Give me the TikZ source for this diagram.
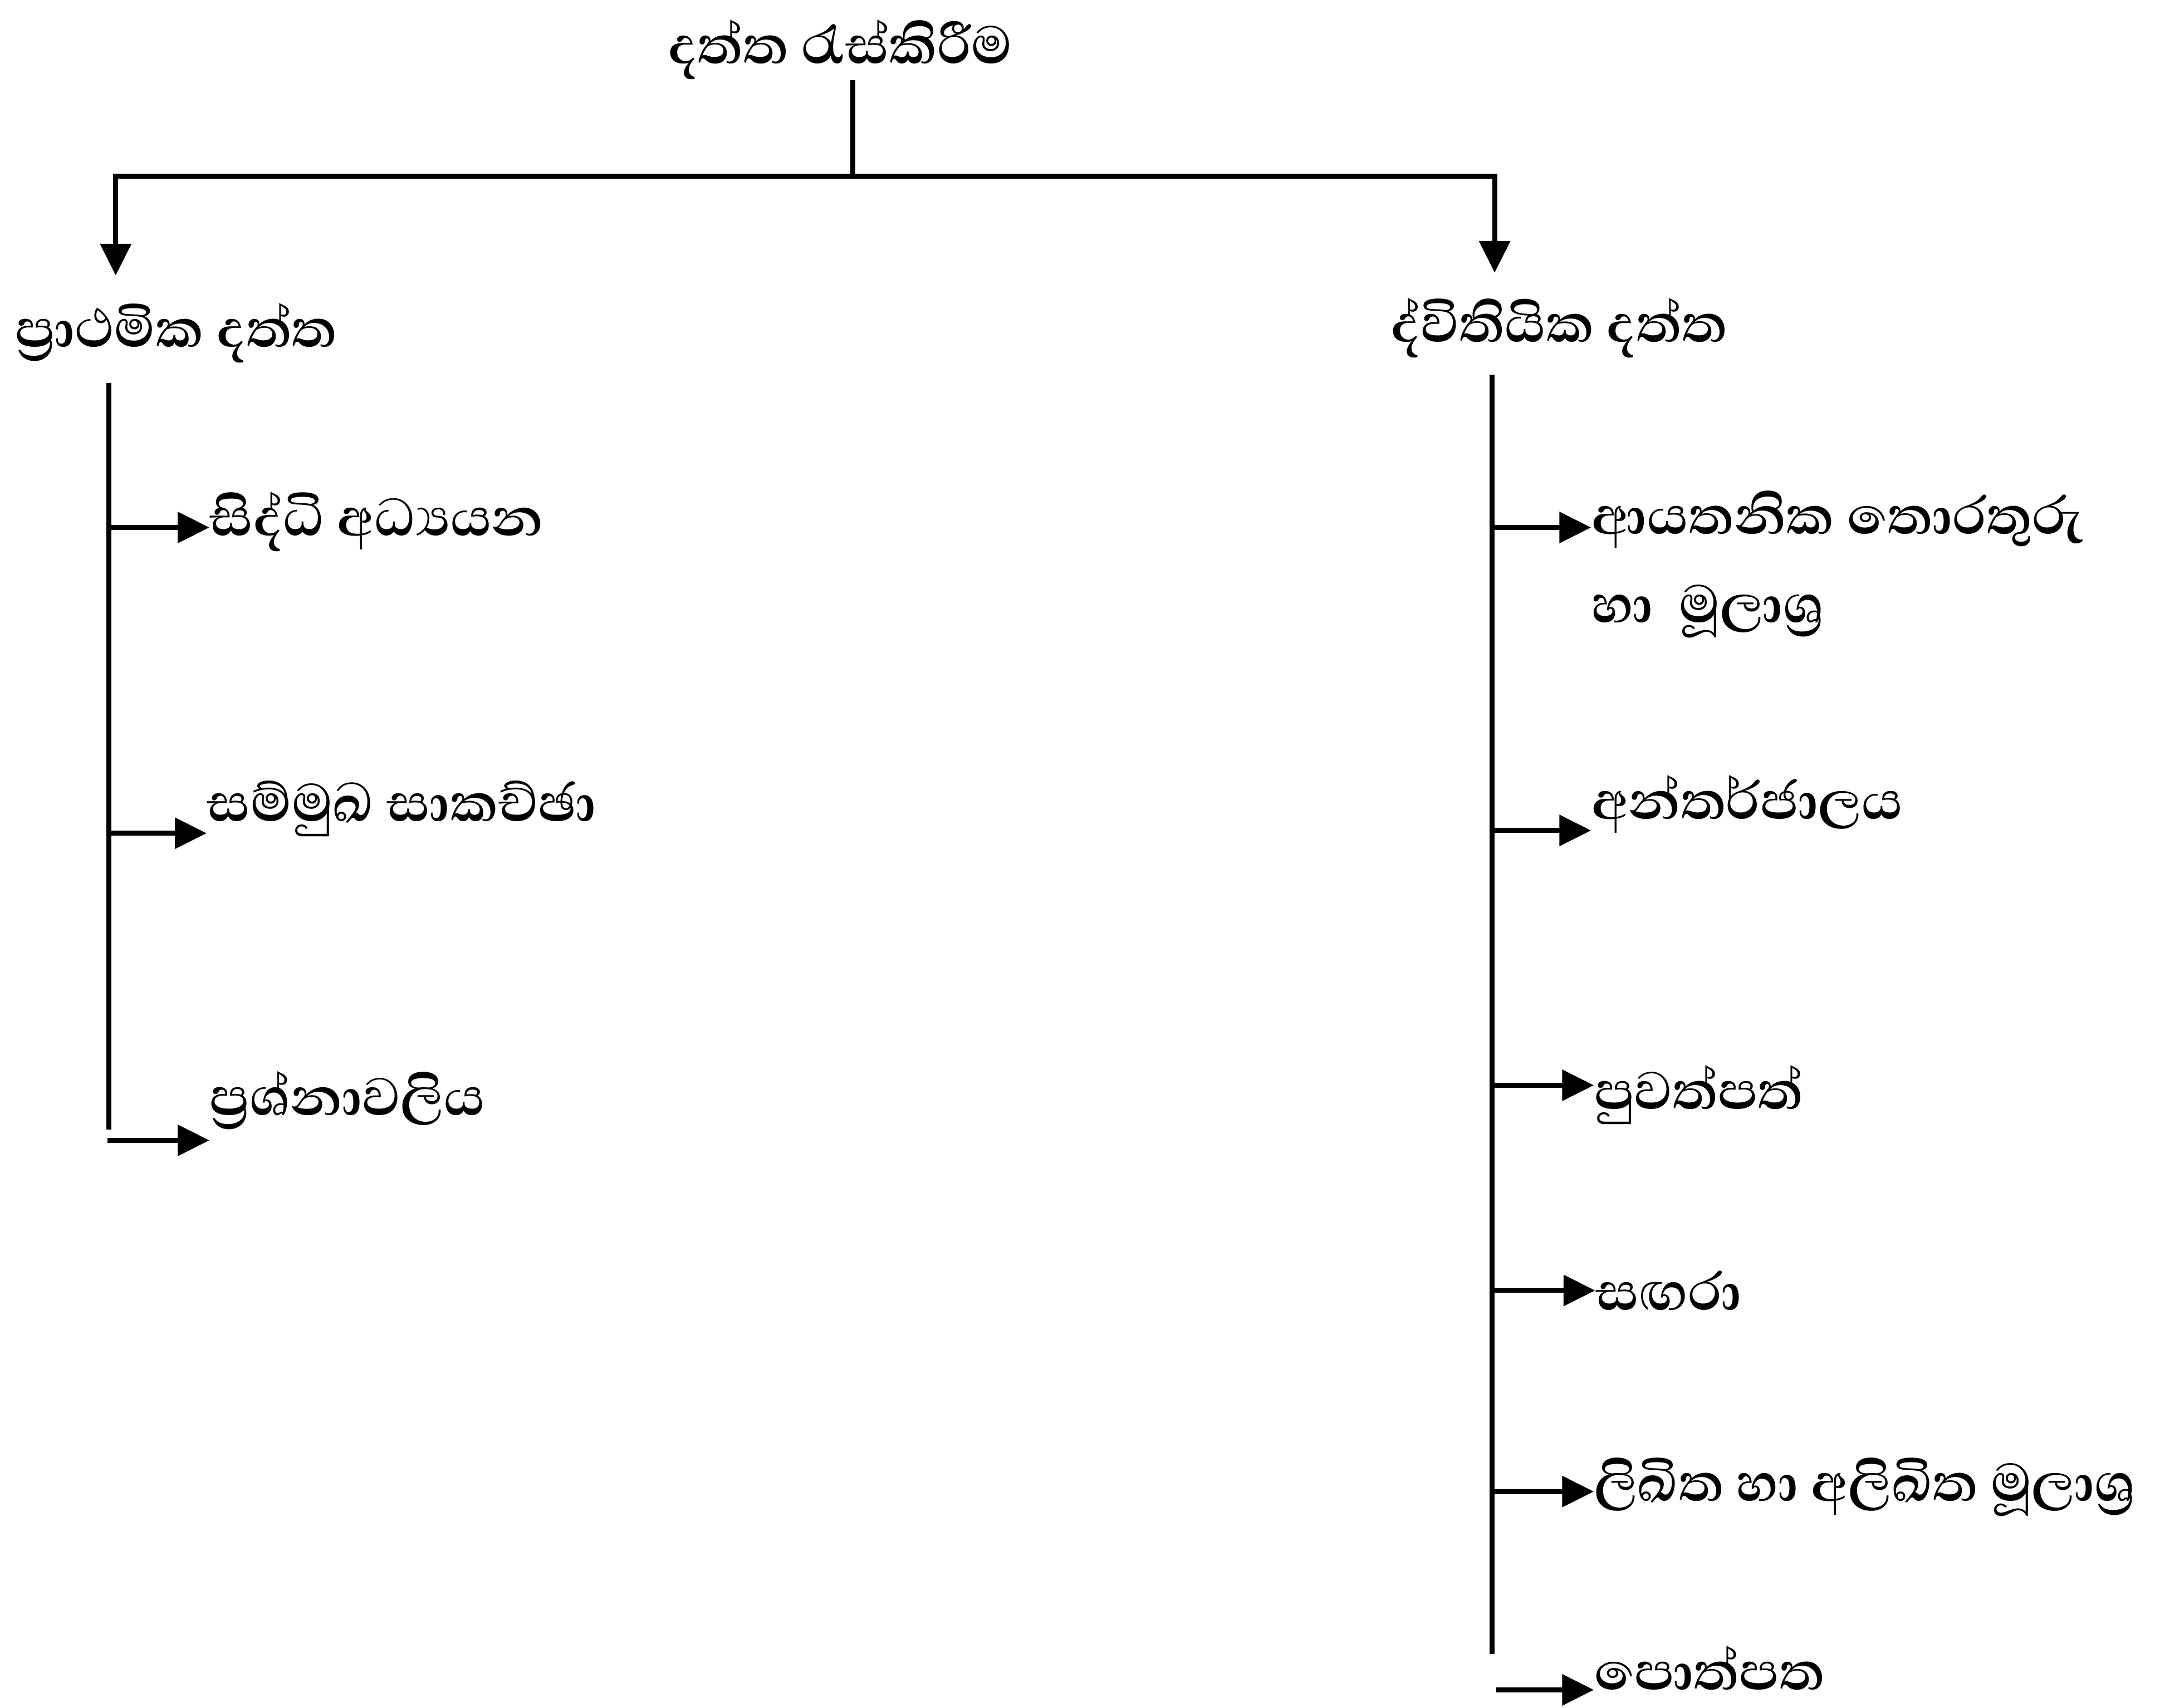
\documentclass[tikz,border=0pt]{standalone}
\usepackage{fontspec}
\setmainfont[Script=Sinhala]{Abhaya Libre}
\usepackage{tikz}
\usetikzlibrary{arrows.meta, positioning, calc}

\begin{document}
\begin{tikzpicture}[
    x=0.02cm, y=-0.02cm,
    topic/.style={inner sep=0pt, font=\fontsize{28}{32}\selectfont\bfseries},
    leaf/.style={inner sep=0pt, anchor=west, font=\fontsize{28}{32}\selectfont\bfseries},
    link/.style={line width=2pt},
    arrow/.style={link,-{Triangle[length=0.46cm,width=0.44cm]}}
  ]
  \useasboundingbox (0,0) rectangle (1568,1240);

  % root and the two data kinds
  \node[topic] (root) at (610,36) {දත්ත රැස්කිරීම};
  \coordinate (split) at (619,128);
  \coordinate (ptip) at (84,200);
  \coordinate (stip) at (1085,198);
  \draw[link] (root.south -| split) -- (split);
  \draw[arrow] (split) -| (ptip);
  \draw[arrow] (split) -| (stip);

  \node[topic] (primary) at (128,242) {ප්^^^^200dරාථමික දත්ත};
  \node[topic] (secondary) at (1132,238) {ද්විතියික දත්ත};

  % primary data
  \coordinate (ptop) at (79,278);
  \coordinate (pend) at (79,820);
  \draw[link] (ptop) -- (pend);

  \node[leaf] (cases) at (152,379) {සිද්ධි අධ්^^^^200dයයන};
  \node[leaf] (talks) at (150,587) {සම්මුඛ සාකච්ඡා};
  \node[leaf] (quest) at (152,799) {ප්^^^^200dරශ්නාවලිය};
  \coordinate (pcases) at (79,383);
  \coordinate (ptalks) at (79,605);
  \coordinate (pquest) at (78,828);
  \draw[arrow] (pcases) -- (pcases -| cases.west);
  \draw[arrow] (ptalks) -- (ptalks -| talks.west);
  \draw[arrow] (pquest) -- (pquest -| quest.west);

  % secondary data
  \coordinate (stop) at (1083,272);
  \coordinate (send) at (1083,1201);
  \draw[link] (stop) -- (send);

  \node[leaf] (inst) at (1155,377) {ආයතනික තොරතුරු};
  \node[leaf] (inst2) at (1155,444) {හා\ \ මූලාශ්^^^^200dර};
  \node[leaf] (web) at (1155,584) {අන්තර්ජාලය};
  \node[leaf] (news) at (1157,795) {පුවත්පත්};
  \node[leaf] (mags) at (1158,937) {සඟරා};
  \node[leaf] (docs) at (1157,1080) {ලිඛිත හා අලිඛිත මූලාශ්^^^^200dර};
  \node[leaf] (books) at (1157,1211) {පොත්පත};
  \coordinate (sinst) at (1083,383);
  \coordinate (sweb) at (1083,603);
  \coordinate (snews) at (1083,788);
  \coordinate (smags) at (1083,937);
  \coordinate (sdocs) at (1083,1083);
  \coordinate (sbooks) at (1086,1227);
  \draw[arrow] (sinst) -- (sinst -| inst.west);
  \draw[arrow] (sweb) -- (sweb -| web.west);
  \draw[arrow] (snews) -- (snews -| news.west);
  \draw[arrow] (smags) -- (smags -| mags.west);
  \draw[arrow] (sdocs) -- (sdocs -| docs.west);
  \draw[arrow] (sbooks) -- (sbooks -| books.west);
\end{tikzpicture}
\end{document}
